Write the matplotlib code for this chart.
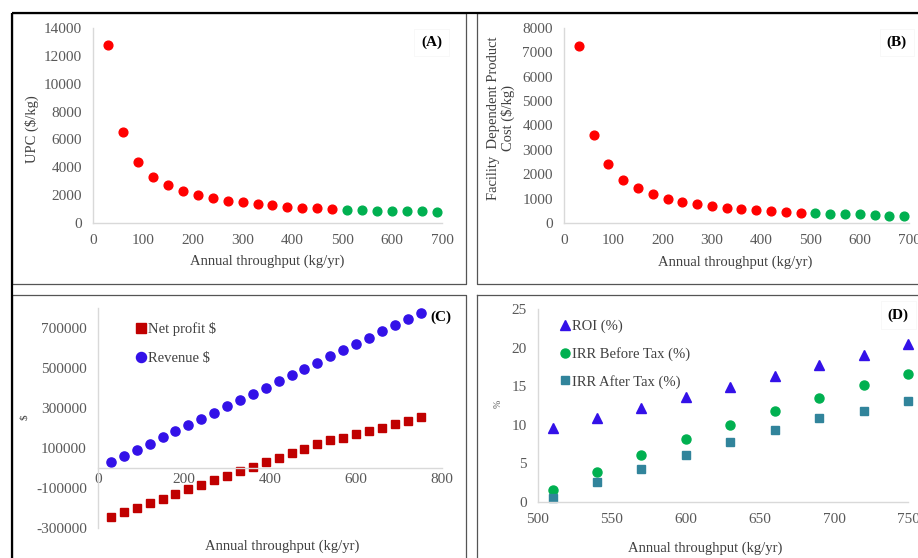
import matplotlib
matplotlib.use("Agg")
import matplotlib.pyplot as plt
import numpy as np

# ---- data ----
throughput_ab = [30, 60, 90, 120, 150, 180, 210, 240, 270, 300, 330, 360,
                 390, 420, 450, 480, 510, 540, 570, 600, 630, 660, 690]
upc = [12800, 6500, 4400, 3330, 2730, 2300, 2010, 1780, 1600, 1490, 1360, 1290,
       1180, 1100, 1050, 1000, 940, 930, 890, 870, 840, 830, 800]
facility_cost = [7280, 3630, 2410, 1770, 1420, 1180, 990, 870, 780, 710, 630, 580,
                 530, 490, 460, 420, 400, 370, 355, 350, 330, 300, 300]
profitable_from = 510   # first throughput with positive net profit

throughput_c = [30, 60, 90, 120, 150, 180, 210, 240, 270, 300, 330, 360, 390,
                420, 450, 480, 510, 540, 570, 600, 630, 660, 690, 720, 750]
revenue = [26700, 60000, 90000, 120000, 151700, 181700, 213300, 245000, 275000,
           306700, 338300, 370000, 400000, 431700, 463300, 495000, 525000,
           556700, 586700, 618300, 650000, 681700, 713300, 745000, 771700]
net_profit = [-245000, -221700, -200000, -178300, -155000, -133300, -108300,
              -88300, -63300, -43300, -18300, 5000, 26700, 50000, 71700, 93300,
              116700, 136700, 148300, 166700, 181700, 200000, 218300, 235000,
              251700]

throughput_d = [510, 540, 570, 600, 630, 660, 690, 720, 750]
roi = [9.5, 10.8, 12.2, 13.6, 14.9, 16.3, 17.7, 19.0, 20.4]
irr_before = [1.5, 3.9, 6.0, 8.1, 9.9, 11.8, 13.4, 15.1, 16.6]
irr_after = [0.5, 2.6, 4.3, 6.0, 7.7, 9.3, 10.8, 11.8, 13.1]

# ---- style ----
RED = "#ff0000"
GREEN = "#00b050"
BLUE = "#3311e8"
DARKRED = "#c00000"
TEAL = "#31849b"
TICK = "#595959"
LABEL = "#404040"
AXLINE = "#d9d9d9"

plt.rcParams["font.family"] = ["Liberation Serif", "DejaVu Serif"]
plt.rcParams["axes.unicode_minus"] = False

W, H = 918, 558
fig = plt.figure(figsize=(W / 100, H / 100), dpi=100)


def px_box(l, t, r, b):
    return [l / W, 1 - b / H, (r - l) / W, (b - t) / H]


# background layer in pixel coordinates for frames and free text
bg = fig.add_axes([0, 0, 1, 1])
bg.set_xlim(0, W)
bg.set_ylim(H, 0)
bg.axis("off")

FRAME = "#555555"
for l, t, r, b in [(12, 13, 465.5, 284), (477, 13, 925, 284),
                   (12, 294.5, 465.5, 565), (477, 294.5, 925, 565)]:
    bg.plot([l, r, r, l, l], [t, t, b, b, t], color=FRAME, lw=0.9)
bg.plot([12, W], [13, 13], color="black", lw=1.6, solid_capstyle="butt")
bg.plot([12, 12], [13, H], color="black", lw=1.6, solid_capstyle="butt")


def style_axes(ax, tick_size=11):
    for side in ("top", "right"):
        ax.spines[side].set_visible(False)
    for side in ("left", "bottom"):
        ax.spines[side].set_color(AXLINE)
        ax.spines[side].set_linewidth(1.0)
    ax.patch.set_alpha(0)
    ax.tick_params(length=0, labelsize=tick_size, colors=TICK, pad=8)


# ── (A) UPC ─────────────────────────────────────────────────────
x_ab = np.array(throughput_ab)
red_mask = x_ab < profitable_from

axA = fig.add_axes(px_box(93, 28, 442, 223))
style_axes(axA)
axA.plot(x_ab[red_mask], np.array(upc)[red_mask], "o", color=RED, ms=6.3, clip_on=False)
axA.plot(x_ab[~red_mask], np.array(upc)[~red_mask], "o", color=GREEN, ms=6.3, clip_on=False)
axA.set_xlim(0, 700)
axA.set_ylim(0, 14000)
axA.set_xticks(range(0, 701, 100))
axA.set_yticks(range(0, 14001, 2000))

# ── (B) facility dependent cost ─────────────────────────────────
axB = fig.add_axes(px_box(564, 28, 909, 223))
style_axes(axB)
axB.plot(x_ab[red_mask], np.array(facility_cost)[red_mask], "o", color=RED, ms=6.3, clip_on=False)
axB.plot(x_ab[~red_mask], np.array(facility_cost)[~red_mask], "o", color=GREEN, ms=6.3, clip_on=False)
axB.set_xlim(0, 700)
axB.set_ylim(0, 8000)
axB.set_xticks(range(0, 701, 100))
axB.set_yticks(range(0, 8001, 1000))

# ── (C) revenue / net profit ────────────────────────────────────
axC = fig.add_axes(px_box(98, 307.7, 442, 527.7))
style_axes(axC)
axC.spines["bottom"].set_position(("data", 0))
axC.plot(throughput_c, net_profit, "s", color=DARKRED, ms=6.0, clip_on=False,
         label="Net profit $")
axC.plot(throughput_c, revenue, "o", color=BLUE, ms=6.6, clip_on=False,
         label="Revenue $")
axC.set_xlim(0, 800)
axC.set_ylim(-300000, 800000)
axC.set_xticks(range(0, 801, 200))
axC.set_yticks(range(-300000, 700001, 200000))
axC.tick_params(axis="x", pad=4)
axC.legend(loc="upper left", bbox_to_anchor=(0.1145, 0.936), frameon=False,
           fontsize=10.5, handlelength=0.5, handletextpad=0.23, borderpad=0,
           borderaxespad=0, labelspacing=1.1, labelcolor=LABEL, markerscale=1.1)

# ── (D) ROI / IRR ───────────────────────────────────────────────
axD = fig.add_axes(px_box(537.7, 309, 908.3, 501.7))
style_axes(axD)
axD.plot(throughput_d, roi, "^", color=BLUE, ms=6.5, clip_on=False, label="ROI (%)")
axD.plot(throughput_d, irr_before, "o", color=GREEN, ms=6.5, clip_on=False,
         label="IRR Before Tax (%)")
axD.plot(throughput_d, irr_after, "s", color=TEAL, ms=6.3, clip_on=False,
         label="IRR After Tax (%)")
axD.set_xlim(500, 750)
axD.set_ylim(0, 25)
axD.set_xticks(range(500, 751, 50))
axD.set_yticks(range(0, 26, 5))
axD.legend(loc="upper left", bbox_to_anchor=(0.064, 0.945), frameon=False,
           fontsize=10.5, handlelength=0.5, handletextpad=0.25, borderpad=0,
           borderaxespad=0, labelspacing=0.95, labelcolor=LABEL)

# ── axis titles and panel letters ───────────────────────────────
xlab = "Annual throughput (kg/yr)"
for x, y in [(266.7, 261.7), (735, 262), (281.7, 546.7), (705, 548.3)]:
    bg.text(x, y, xlab, ha="center", va="center", fontsize=10.5, color=LABEL)
bg.text(31.7, 129, "UPC ($/kg)", rotation=90, ha="center", va="center",
        fontsize=10.5, color=LABEL)
bg.text(501, 118, "Facility  Dependent Product\nCost ($/kg)", rotation=90,
        ha="center", va="center", fontsize=10.5, color=LABEL, linespacing=1.0)
bg.text(25, 417, "$", rotation=90, ha="center", va="center", fontsize=8, color=LABEL)
bg.text(498.3, 404.3, "%", rotation=90, ha="center", va="center", fontsize=7, color=TICK)

box = dict(boxstyle="square,pad=0.45", fc="white", ec="#f7f7f7", lw=0.6)
bg.text(431.7, 42.7, "(A)", ha="center", va="center", fontsize=11,
        fontweight="bold", bbox=box)
bg.text(896.7, 42.7, "(B)", ha="center", va="center", fontsize=11,
        fontweight="bold", bbox=box)
bg.text(441, 317.3, "(C)", ha="center", va="center", fontsize=11,
        fontweight="bold")
bg.text(898.3, 315, "(D)", ha="center", va="center", fontsize=11,
        fontweight="bold", bbox=box)

fig.savefig("out.png", dpi=100)
